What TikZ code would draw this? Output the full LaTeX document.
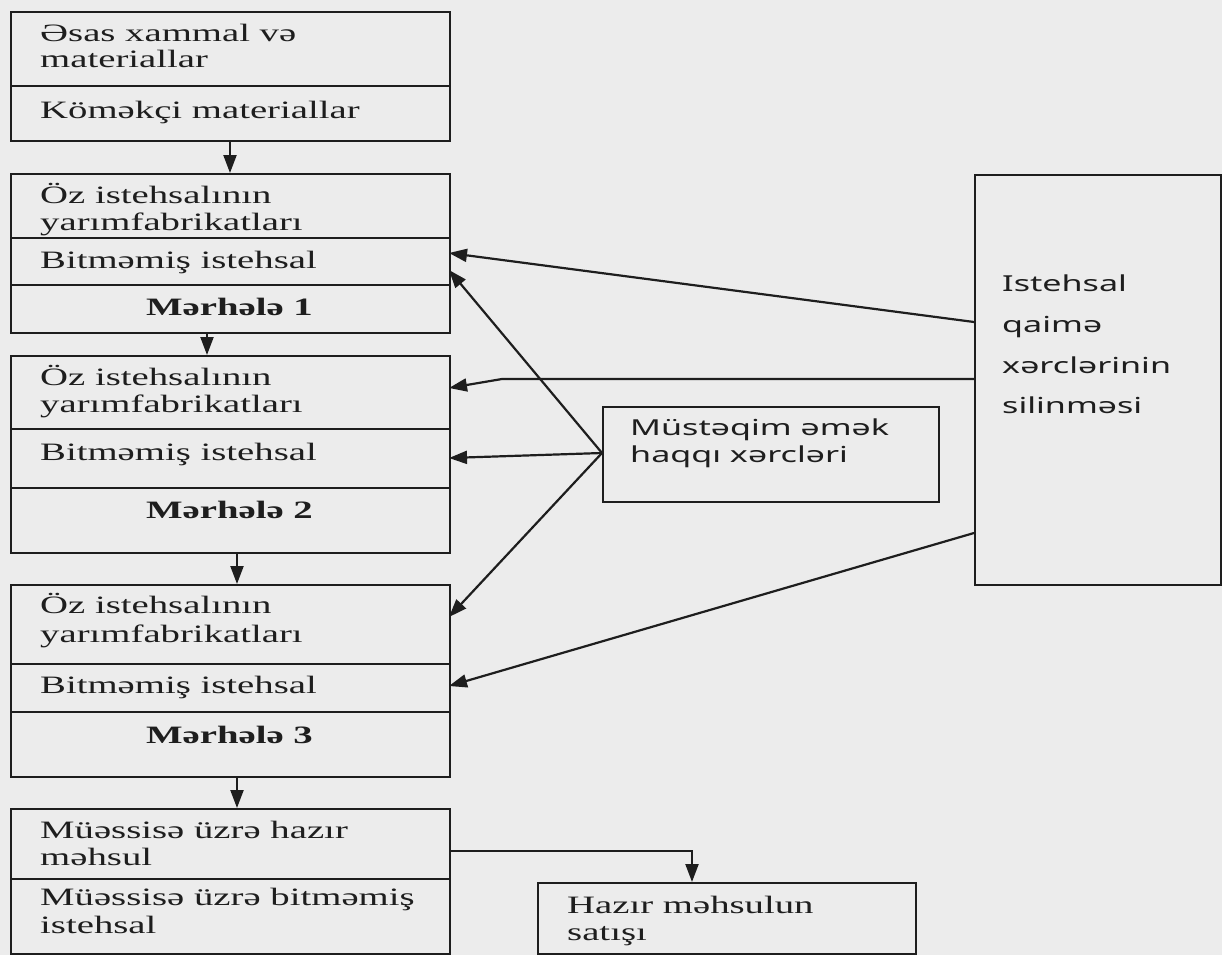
\documentclass[tikz,border=0pt]{standalone}
\usepackage{fontspec}
\setmainfont{Liberation Serif}[FakeStretch=1.55]
\newfontfamily\sansx{Noto Sans}[FakeStretch=1.55]
\usetikzlibrary{arrows.meta}
\definecolor{paper}{RGB}{236,236,236}
\definecolor{ink}{RGB}{30,30,30}
\tikzset{
 box/.style={draw=ink, line width=2.3pt, anchor=north west, inner sep=0pt},
 lt/.style={anchor=base west, inner sep=0pt, font=\fontsize{25}{26}\selectfont, text=ink},
 bt/.style={anchor=base, inner sep=0pt, font=\fontsize{25}{26}\selectfont\bfseries, text=ink},
 st/.style={anchor=base west, inner sep=0pt, font=\sansx\fontsize{22}{24}\selectfont, text=ink},
 div/.style={draw=ink, line width=2pt},
 arr/.style={draw=ink, line width=2.2pt, -{Triangle[length=18pt,width=13pt]}},
}
\begin{document}
\begin{tikzpicture}[x=1pt,y=-1pt]
\fill[paper] (0,0) rectangle (1222,955);
\useasboundingbox (0,0) rectangle (1222,955);
% left column boxes
\node[box, minimum width=439pt, minimum height=129pt] (b1) at (10,11) {};
\node[box, minimum width=439pt, minimum height=159pt] (b2) at (10,173) {};
\node[box, minimum width=439pt, minimum height=197pt] (b3) at (10,355) {};
\node[box, minimum width=439pt, minimum height=192pt] (b4) at (10,584) {};
\node[box, minimum width=439pt, minimum height=145pt] (b5) at (10,808) {};
% right boxes
\node[box, minimum width=246pt, minimum height=410pt] (r) at (974,174) {};
\node[box, minimum width=336pt, minimum height=95pt] (m) at (602,406) {};
\node[box, minimum width=378pt, minimum height=71pt] (h) at (537,882) {};
% dividers
\draw[div] (10,86) -- (449,86);
\draw[div] (10,238) -- (449,238);
\draw[div] (10,285) -- (449,285);
\draw[div] (10,429) -- (449,429);
\draw[div] (10,488) -- (449,488);
\draw[div] (10,664) -- (449,664);
\draw[div] (10,712) -- (449,712);
\draw[div] (10,879) -- (449,879);
% texts box 1
\node[lt] (t11) at (40,42) {Əsas xammal və};
\node[lt] (t12) at (40,68) {materiallar};
\node[lt] (t13) at (40,118) {Köməkçi materiallar};
% box 2
\node[lt] (t21) at (40,203) {Öz istehsalının};
\node[lt] (t22) at (40,230) {yarımfabrikatları};
\node[lt] (t23) at (40,268) {Bitməmiş istehsal};
\node[bt] (t24) at (229.5,315) {Mərhələ 1};
% box 3
\node[lt] (t31) at (40,385) {Öz istehsalının};
\node[lt] (t32) at (40,412) {yarımfabrikatları};
\node[lt] (t33) at (40,460) {Bitməmiş istehsal};
\node[bt] (t34) at (229.5,518) {Mərhələ 2};
% box 4
\node[lt] (t41) at (40,613) {Öz istehsalının};
\node[lt] (t42) at (40,642) {yarımfabrikatları};
\node[lt] (t43) at (40,693) {Bitməmiş istehsal};
\node[bt] (t44) at (229.5,743) {Mərhələ 3};
% box 5
\node[lt] (t51) at (40,838) {Müəssisə üzrə hazır};
\node[lt] (t52) at (40,865) {məhsul};
\node[lt] (t53) at (40,905) {Müəssisə üzrə bitməmiş};
\node[lt] (t54) at (40,933) {istehsal};
% right box text
\node[st] (tr1) at (1002,291) {Istehsal};
\node[st] (tr2) at (1002,332) {qaimə};
\node[st] (tr3) at (1002,373) {xərclərinin};
\node[st] (tr4) at (1002,413) {silinməsi};
% middle box text
\node[st] (tm1) at (630,435) {Müstəqim əmək};
\node[st] (tm2) at (630,462) {haqqı xərcləri};
% sales box text
\node[lt] (th1) at (567,913) {Hazır məhsulun};
\node[lt] (th2) at (567,940) {satışı};
% connector points
\coordinate (d1) at (230,140);
\coordinate (d2) at (207,332);
\coordinate (d3) at (237,552);
\coordinate (d4) at (237,776);
\coordinate (ra) at (974,322);
\coordinate (rb) at (974,379);
\coordinate (rbk) at (502,379);
\coordinate (rc) at (974,533);
\coordinate (mw) at (602,453);
\coordinate (b2a) at (449,253);
\coordinate (b2b) at (449,270);
\coordinate (b3a) at (449,388);
\coordinate (b3b) at (449,458);
\coordinate (b4a) at (449,617);
\coordinate (b4b) at (449,686);
\coordinate (b5e) at (449,851);
\coordinate (hk) at (692,851);
% vertical flow
\draw[arr] (d1) -- (d1 |- b2.north);
\draw[arr] (d2) -- (d2 |- b3.north);
\draw[arr] (d3) -- (d3 |- b4.north);
\draw[arr] (d4) -- (d4 |- b5.north);
% overhead
\draw[arr] (ra) -- (b2a);
\draw[arr] (rb) -- (rbk) -- (b3a);
\draw[arr] (rc) -- (b4b);
% direct labour
\draw[arr] (mw) -- (b2b);
\draw[arr] (mw) -- (b3b);
\draw[arr] (mw) -- (b4a);
% sales
\draw[arr] (b5e) -- (hk) -- (hk |- h.north);
\end{tikzpicture}
\end{document}
